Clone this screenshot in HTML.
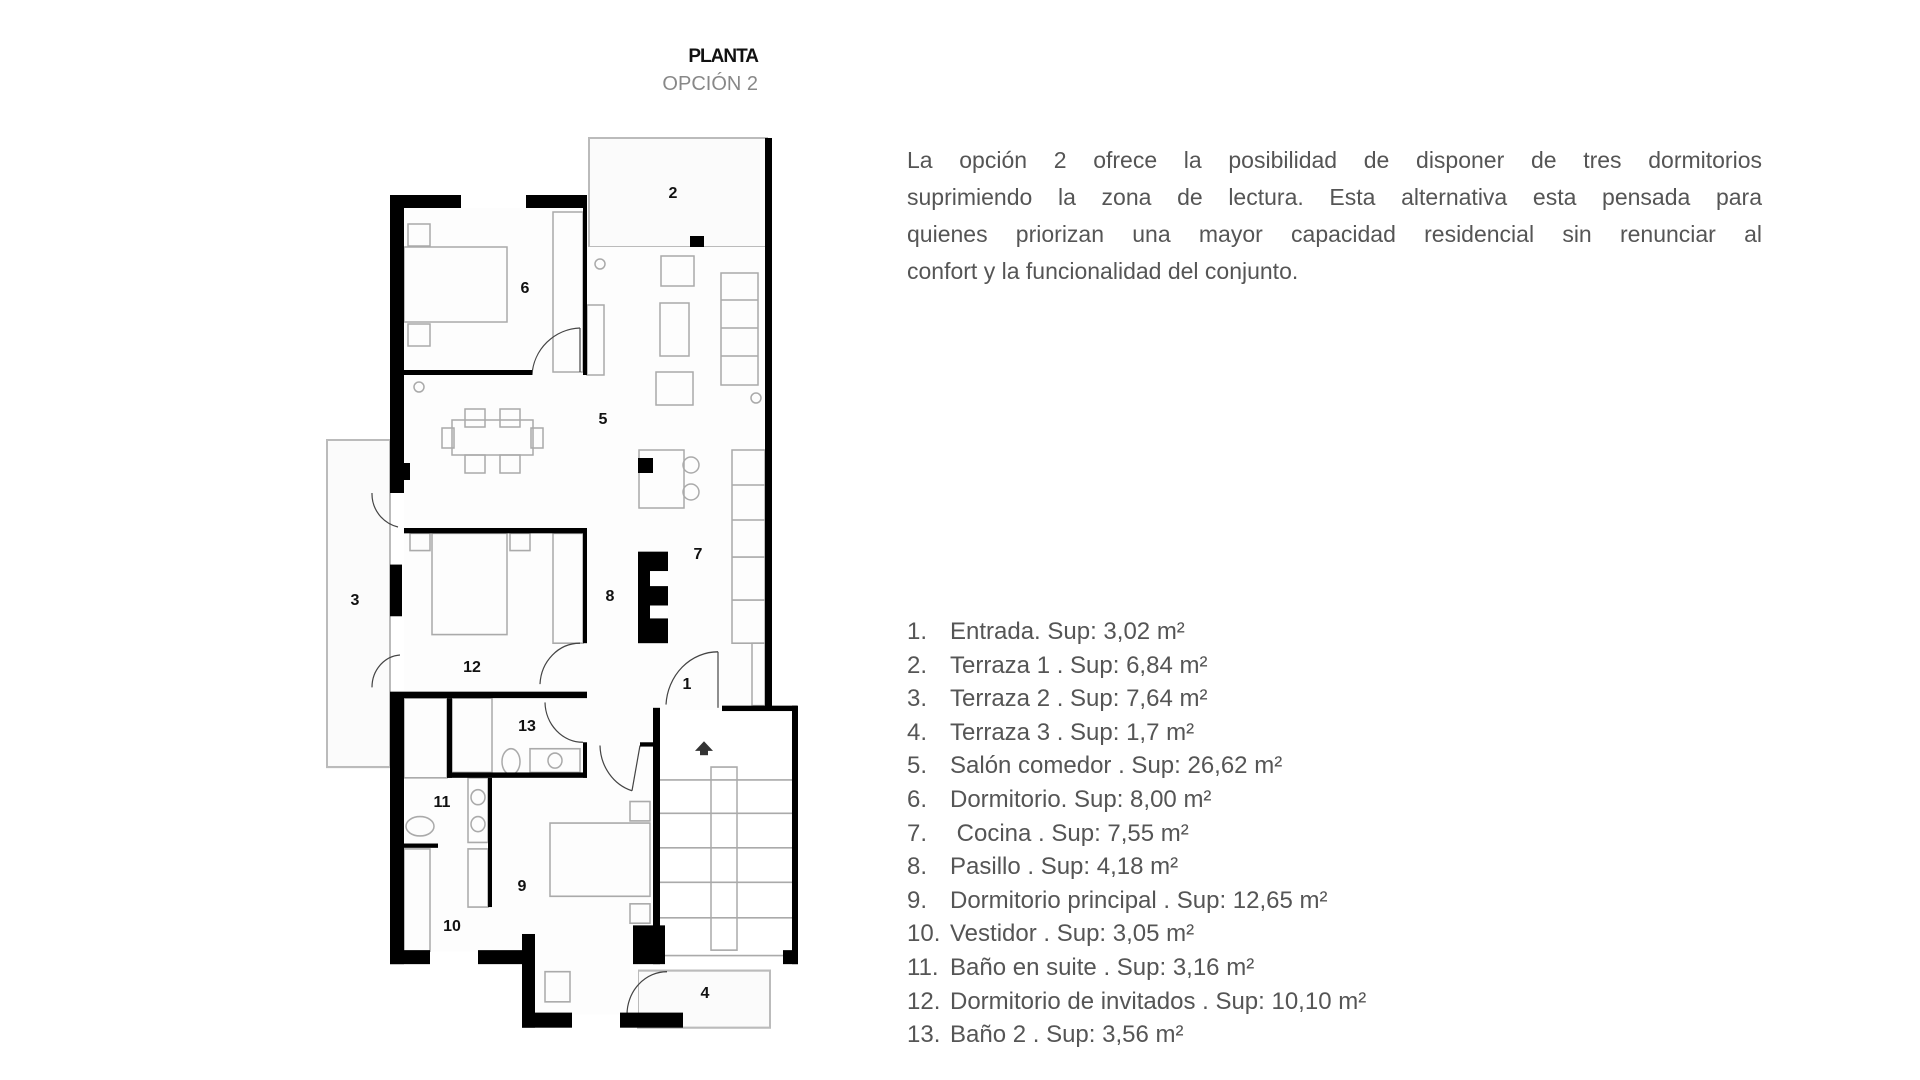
<!DOCTYPE html>
<html><head><meta charset="utf-8"><style>
body{margin:0;width:1920px;height:1080px;background:#fff;position:relative;overflow:hidden;font-family:"Liberation Sans",sans-serif}
.t{position:absolute}
.p{position:absolute;left:907px;top:142px;width:855px;color:#555;font-size:23px;line-height:37px}
.p div{text-align:justify;text-align-last:justify;white-space:nowrap}
.p div.l{text-align-last:left}
.list{position:absolute;left:907px;top:615px;color:#555;font-size:24px;line-height:33.6px}
.list div{position:relative;padding-left:43px;white-space:nowrap}
.list span{position:absolute;left:0}
</style></head><body>
<div class="t" style="left:600px;width:158px;text-align:right;top:46px;font-weight:bold;font-size:19px;letter-spacing:-1px;color:#111">PLANTA</div>
<div class="t" style="left:600px;width:158px;text-align:right;top:73px;font-size:20px;color:#888">OPCIÓN 2</div>
<div class="p">
<div>La opción 2 ofrece la posibilidad de disponer de tres dormitorios</div>
<div>suprimiendo la zona de lectura. Esta alternativa esta pensada para</div>
<div>quienes priorizan una mayor capacidad residencial sin renunciar al</div>
<div class="l">confort y la funcionalidad del conjunto.</div>
</div>
<div class="list">
<div><span>1.</span>Entrada. Sup: 3,02 m²</div>
<div><span>2.</span>Terraza 1 . Sup: 6,84 m²</div>
<div><span>3.</span>Terraza 2 . Sup: 7,64 m²</div>
<div><span>4.</span>Terraza 3 . Sup: 1,7 m²</div>
<div><span>5.</span>Salón comedor . Sup: 26,62 m²</div>
<div><span>6.</span>Dormitorio. Sup: 8,00 m²</div>
<div><span>7.</span>&nbsp;Cocina . Sup: 7,55 m²</div>
<div><span>8.</span>Pasillo . Sup: 4,18 m²</div>
<div><span>9.</span>Dormitorio principal . Sup: 12,65 m²</div>
<div><span>10.</span>Vestidor . Sup: 3,05 m²</div>
<div><span>11.</span>Baño en suite . Sup: 3,16 m²</div>
<div><span>12.</span>Dormitorio de invitados . Sup: 10,10 m²</div>
<div><span>13.</span>Baño 2 . Sup: 3,56 m²</div>
</div>
<svg class="t" style="left:0;top:0" width="1920" height="1080" viewBox="0 0 1920 1080">
<defs>
<clipPath id="ca" clipPathUnits="userSpaceOnUse"><rect x="0" y="0" width="1000" height="529"/></clipPath>
<clipPath id="cb" clipPathUnits="userSpaceOnUse"><rect x="0" y="529" width="1000" height="600"/></clipPath>
<g id="plan">
<g fill="#fbfbfb" stroke="#bbb" stroke-width="2">
<rect x="589" y="138" width="178" height="109"/>
<rect x="327" y="440" width="63" height="310"/>
<rect x="638" y="939" width="132" height="53"/>
</g>
<g fill="#fdfdfd" stroke="none">
<rect x="404" y="208" width="179" height="162"/>
<rect x="404" y="247" width="361" height="450"/>
<rect x="404" y="686" width="250" height="235"/>
<rect x="535" y="920" width="103" height="60"/>
</g>
<g fill="none" stroke="#aaa" stroke-width="1.5">
<rect x="404" y="247" width="103" height="75"/>
<rect x="408" y="224" width="22" height="22"/><rect x="408" y="324" width="22" height="22"/>
<rect x="553" y="212" width="30" height="160"/>
<rect x="587" y="305" width="17" height="70"/>
<rect x="452" y="420" width="81" height="35"/>
<rect x="465" y="409" width="20" height="18"/><rect x="500" y="409" width="20" height="18"/>
<rect x="465" y="455" width="20" height="18"/><rect x="500" y="455" width="20" height="18"/>
<rect x="442" y="428" width="12" height="20"/><rect x="531" y="428" width="12" height="20"/>
<rect x="721" y="273" width="37" height="112"/>
<line x1="721" y1="300" x2="758" y2="300"/><line x1="721" y1="328" x2="758" y2="328"/><line x1="721" y1="356" x2="758" y2="356"/>
<rect x="661" y="256" width="33" height="30"/><rect x="660" y="303" width="29" height="53"/><rect x="656" y="372" width="37" height="33"/>
<rect x="639" y="450" width="45" height="58"/>
<circle cx="691" cy="465" r="8"/><circle cx="691" cy="492" r="8"/>
<circle cx="600" cy="264" r="5"/><circle cx="756" cy="398" r="5"/><circle cx="419" cy="387" r="5"/>
<rect x="732" y="450" width="33" height="185"/>
<line x1="732" y1="485" x2="765" y2="485"/><line x1="732" y1="520" x2="765" y2="520"/><line x1="732" y1="555" x2="765" y2="555"/><line x1="732" y1="595" x2="765" y2="595"/>
<rect x="752" y="635" width="13" height="58"/>
<rect x="432" y="533" width="75" height="94"/>
<rect x="410" y="533" width="20" height="16"/><rect x="510" y="533" width="20" height="16"/>
<rect x="553" y="533" width="30" height="102"/>
<rect x="404" y="686" width="43" height="74"/>
<rect x="452" y="686" width="40" height="69"/>
<rect x="530" y="733" width="50" height="22"/><circle cx="555" cy="744" r="7"/>
<ellipse cx="511" cy="745" rx="9" ry="12"/>
<rect x="468" y="760" width="20" height="60"/>
<circle cx="478" cy="778" r="7"/><circle cx="478" cy="803" r="7"/>
<rect x="468" y="826" width="20" height="54"/>
<ellipse cx="420" cy="805" rx="14" ry="9"/>
<rect x="404" y="826" width="26" height="95"/>
<rect x="550" y="802" width="100" height="68"/>
<rect x="630" y="782" width="20" height="18"/><rect x="630" y="877" width="20" height="18"/>
<rect x="545" y="940" width="25" height="28"/>
<rect x="711" y="750" width="26" height="170"/>
<line x1="660" y1="762" x2="792" y2="762"/>
<line x1="660" y1="793" x2="792" y2="793"/><line x1="660" y1="825" x2="792" y2="825"/><line x1="660" y1="857" x2="792" y2="857"/><line x1="660" y1="890" x2="792" y2="890"/>
<line x1="660" y1="925" x2="792" y2="925"/>
</g>
<g fill="none" stroke="#444" stroke-width="1.2">
<path d="M532 375 A50 50 0 0 1 580 328"/><line x1="580" y1="328" x2="580" y2="372"/>
<path d="M372 493 A34 34 0 0 0 398 527"/>
<path d="M372 676 A30 30 0 0 1 400 646"/>
<path d="M540 673 A40 40 0 0 1 580 635"/>
<path d="M545 690 A38 38 0 0 0 583 727"/>
<path d="M600 730 A45 45 0 0 0 632 772"/><line x1="632" y1="772" x2="640" y2="730"/>
<path d="M666 692 A52 52 0 0 1 718 643"/><line x1="718" y1="643" x2="718" y2="695"/>
<path d="M627 980 A40 40 0 0 1 667 940"/>
</g>
<g fill="#000">
<rect x="765" y="138" width="7" height="557"/>
<rect x="390" y="195" width="71" height="13"/><rect x="526" y="195" width="60" height="13"/>
<rect x="390" y="195" width="14" height="298"/><rect x="404" y="463" width="6" height="17"/>
<rect x="583" y="195" width="4" height="180"/>
<rect x="404" y="370" width="128" height="5"/>
<rect x="690" y="236" width="14" height="11"/>
<rect x="404" y="528" width="182" height="5"/><rect x="583" y="528" width="4" height="107"/>
<rect x="390" y="562" width="12" height="48"/>
<rect x="390" y="680" width="14" height="253"/>
<rect x="404" y="680" width="183" height="6"/>
<rect x="447" y="686" width="5" height="74"/>
<rect x="447" y="755" width="140" height="5"/>
<rect x="583" y="727" width="4" height="33"/>
<rect x="488" y="760" width="4" height="120"/>
<rect x="404" y="821" width="34" height="4"/>
<rect x="390" y="920" width="40" height="13"/><rect x="478" y="920" width="57" height="13"/>
<rect x="522" y="905" width="13" height="87"/>
<rect x="522" y="978" width="50" height="14"/><rect x="620" y="978" width="63" height="14"/>
<rect x="653" y="695" width="7" height="238"/>
<rect x="640" y="727" width="13" height="4"/>
<rect x="722" y="693" width="75" height="5"/>
<rect x="792" y="693" width="6" height="240"/>
<rect x="633" y="897" width="32" height="36"/>
<rect x="783" y="920" width="15" height="13"/>
<rect x="638" y="550" width="30" height="85"/>
<rect x="638" y="458" width="15" height="15"/>
</g>
<g fill="#fff"><rect x="650" y="568" width="18" height="14"/><rect x="650" y="600" width="18" height="12"/></g>
<path d="M695 735 L704 726 L713 735 Z" fill="#333"/><rect x="700" y="734" width="8" height="5" fill="#333"/>
</g>
</defs>
<use href="#plan" clip-path="url(#ca)"/>
<use href="#plan" clip-path="url(#cb)" transform="translate(0,-40.7) scale(1,1.077)"/>
<g font-family="Liberation Sans,sans-serif" font-weight="bold" font-size="16" fill="#111" text-anchor="middle">
<text x="673" y="198">2</text><text x="525" y="293">6</text><text x="603" y="424">5</text>
<text x="698" y="559">7</text><text x="610" y="601">8</text><text x="355" y="605">3</text>
<text x="472" y="672">12</text><text x="687" y="689">1</text><text x="527" y="731">13</text>
<text x="442" y="807">11</text><text x="522" y="891">9</text><text x="452" y="931">10</text><text x="705" y="998">4</text>
</g>
</svg>
</body></html>
